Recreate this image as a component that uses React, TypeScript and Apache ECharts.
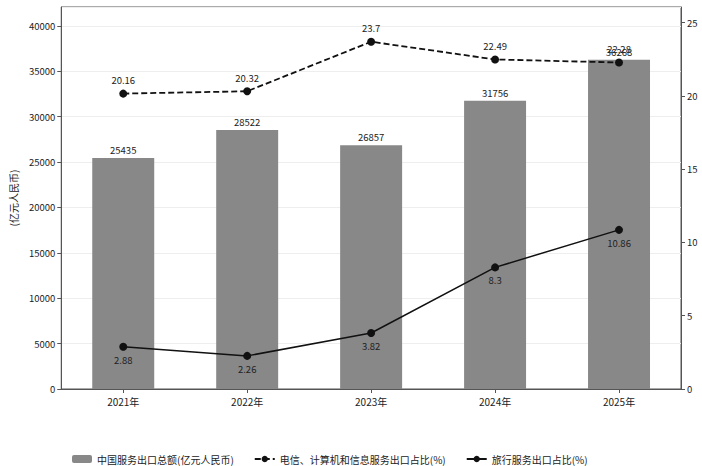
import React, { useEffect, useRef } from "react";
import * as echarts from "echarts";

const categories = ["2021年", "2022年", "2023年", "2024年", "2025年"];
const exportTotal = [25435, 28522, 26857, 31756, 36268];
const telecomShare = [20.16, 20.32, 23.7, 22.49, 22.28];
const travelShare = [2.88, 2.26, 3.82, 8.3, 10.86];

const seriesNames = [
  "中国服务出口总额(亿元人民币)",
  "电信、计算机和信息服务出口占比(%)",
  "旅行服务出口占比(%)",
];
const yAxisName = "(亿元人民币)";

const FONT = "'Noto Sans CJK SC', 'Noto Sans', sans-serif";
const TEXT = "#222";
const AXIS = "#555";

export default function App() {
  const ref = useRef<HTMLDivElement>(null);
  useEffect(() => {
    if (!ref.current) return;
    const chart = echarts.init(ref.current, null, { renderer: "svg" });
    const leftMax = Math.max(...exportTotal) * 1.16;
    const rightMax = Math.max(...telecomShare) * 1.1;
    chart.setOption({
      animation: false,
      textStyle: { fontFamily: FONT, color: TEXT },
      grid: {
        left: 57,
        right: 21,
        top: 7,
        bottom: 77,
        show: true,
        borderColor: AXIS,
        borderWidth: 1,
        backgroundColor: "transparent",
      },
      legend: {
        left: 67,
        top: 449,
        itemGap: 20,
        itemWidth: 20,
        itemHeight: 8,
        textStyle: { fontFamily: FONT, fontSize: 10, color: TEXT },
        data: seriesNames,
      },
      xAxis: {
        type: "category",
        data: categories,
        axisLine: { lineStyle: { color: AXIS } },
        axisTick: { show: true, alignWithLabel: true, length: 4, lineStyle: { color: AXIS } },
        axisLabel: { fontSize: 10, color: TEXT, margin: 7, fontFamily: FONT },
      },
      yAxis: [
        {
          type: "value",
          min: 0,
          max: leftMax,
          interval: 5000,
          name: yAxisName,
          nameLocation: "middle",
          nameGap: 40,
          nameTextStyle: { fontSize: 10, color: TEXT, fontFamily: FONT },
          axisLine: { show: true, lineStyle: { color: AXIS } },
          axisTick: { show: true, length: 4, lineStyle: { color: AXIS } },
          axisLabel: {
            fontSize: 9.5,
            color: TEXT,
            showMaxLabel: false,
            margin: 6,
            fontFamily: FONT,
            formatter: (v: number) => String(v),
          },
          splitLine: { show: true, lineStyle: { color: "#eeeeee", width: 1 } },
        },
        {
          type: "value",
          min: 0,
          max: rightMax,
          interval: 5,
          position: "right",
          axisLine: { show: true, lineStyle: { color: AXIS } },
          axisTick: { show: true, length: 4, lineStyle: { color: AXIS } },
          axisLabel: {
            fontSize: 9.5,
            color: TEXT,
            showMaxLabel: false,
            margin: 6,
            fontFamily: FONT,
            formatter: (v: number) => String(v),
          },
          splitLine: { show: false },
        },
      ],
      series: [
        {
          name: seriesNames[0],
          type: "bar",
          data: exportTotal,
          barWidth: "50%",
          itemStyle: { color: "#888888" },
          label: {
            show: true,
            position: "top",
            distance: 3,
            fontSize: 9.5,
            color: TEXT,
            fontFamily: FONT,
          },
        },
        {
          name: seriesNames[1],
          type: "line",
          yAxisIndex: 1,
          data: telecomShare,
          symbol: "circle",
          symbolSize: 8,
          lineStyle: { color: "#111", width: 1.8, type: [6, 3] },
          itemStyle: { color: "#111" },
          label: {
            show: true,
            position: "top",
            distance: 5,
            fontSize: 9.5,
            color: TEXT,
            fontFamily: FONT,
          },
        },
        {
          name: seriesNames[2],
          type: "line",
          yAxisIndex: 1,
          data: travelShare,
          symbol: "circle",
          symbolSize: 8,
          lineStyle: { color: "#111", width: 1.5, type: "solid" },
          itemStyle: { color: "#111" },
          label: {
            show: true,
            position: "bottom",
            distance: 4,
            fontSize: 9.5,
            color: TEXT,
            fontFamily: FONT,
          },
        },
      ],
    });
    return () => chart.dispose();
  }, []);
  return (
    <div
      ref={ref}
      style={{ position: "absolute", left: 0, top: 0, width: 702, height: 466, background: "#fff" }}
    />
  );
}
